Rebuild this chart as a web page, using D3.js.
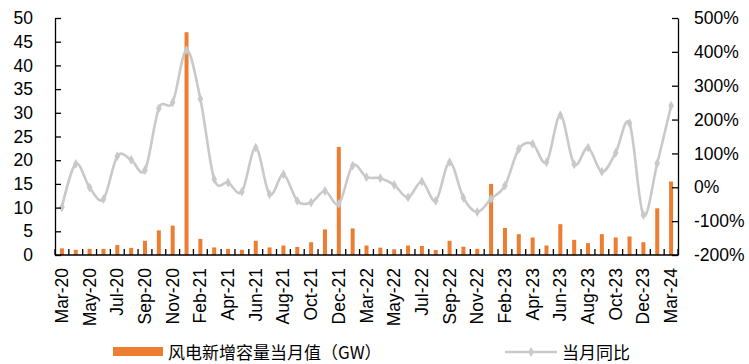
<!DOCTYPE html>
<html>
<head>
<meta charset="utf-8">
<script src="https://cdn.jsdelivr.net/npm/d3@7"></script>
<style>
  html, body { margin: 0; padding: 0; background: #fff; }
  svg { display: block; }
  .tick text { font-family: "Liberation Sans", Arial, sans-serif; fill: #000; }
</style>
</head>
<body>
<svg id="chart" width="749" height="364"></svg>
<script>
// Monthly wind power additions (January is merged into February each year)
const months = [
  "Mar-20","Apr-20","May-20","Jun-20","Jul-20","Aug-20","Sep-20","Oct-20","Nov-20","Dec-20",
  "Feb-21","Mar-21","Apr-21","May-21","Jun-21","Jul-21","Aug-21","Sep-21","Oct-21","Nov-21","Dec-21",
  "Feb-22","Mar-22","Apr-22","May-22","Jun-22","Jul-22","Aug-22","Sep-22","Oct-22","Nov-22","Dec-22",
  "Feb-23","Mar-23","Apr-23","May-23","Jun-23","Jul-23","Aug-23","Sep-23","Oct-23","Nov-23","Dec-23",
  "Feb-24","Mar-24"
];

// New wind capacity in the month (GW)
const newCapacity = [
  1.4, 1.1, 1.3, 1.3, 2.1, 1.5, 3.0, 5.2, 6.2, 47.0,
  3.4, 1.6, 1.3, 1.1, 3.0, 1.6, 2.0, 1.7, 2.7, 5.4, 22.8,
  5.6, 2.0, 1.55, 1.2, 2.0, 1.9, 1.05, 3.0, 1.75, 1.3, 15.0,
  5.7, 4.4, 3.7, 2.0, 6.5, 3.2, 2.5, 4.4, 3.7, 3.9, 2.7,
  9.85, 15.5
];

// Year-on-year change of the monthly additions (%)
const yoy = [
  -59, 69, -1, -35, 92, 81, 51, 233, 251, 405,
  261, 24, 14, -13, 117, -21, 38, -40, -45, -11, -49,
  64, 30, 27, 7, -30, 17, -40, 74, -31, -73, -34,
  5, 113, 128, 74, 213, 68, 117, 46, 102, 189, -82,
  71, 241
];

const leftTicks = [0, 5, 10, 15, 20, 25, 30, 35, 40, 45, 50];
const rightTicks = [-200, -100, 0, 100, 200, 300, 400, 500];

const seriesNames = ["风电新增容量当月值（GW）", "当月同比"];

const barColor = "#ED7D31";
const lineColor = "#C9C9C9";

const svg = d3.select("#chart");
const plot = { left: 55, right: 678, top: 18, bottom: 255 };

const xCat = d3.scaleBand()
  .domain(months)
  .range([plot.left, plot.right]);

const yL = d3.scaleLinear().domain([0, 50]).range([plot.bottom, plot.top]);
const yR = d3.scaleLinear().domain([-200, 500]).range([plot.bottom, plot.top]);

const center = (d) => xCat(d) + xCat.bandwidth() / 2;

// Bars
svg.append("g")
  .selectAll("rect")
  .data(months)
  .join("rect")
  .attr("x", (d) => center(d) - 2)
  .attr("width", 4)
  .attr("y", (d, i) => yL(newCapacity[i]))
  .attr("height", (d, i) => yL(0) - yL(newCapacity[i]))
  .attr("fill", barColor);

// Smoothed YoY line
const line = d3.line()
  .x((d, i) => center(months[i]))
  .y((d) => yR(d))
  .curve(d3.curveCardinal.tension(0));

svg.append("path")
  .datum(yoy)
  .attr("d", line)
  .attr("fill", "none")
  .attr("stroke", lineColor)
  .attr("stroke-width", 2.6)
  .attr("stroke-linejoin", "round");

const diamond = d3.symbol().type(d3.symbolDiamond).size(28);
svg.append("g")
  .selectAll("path")
  .data(yoy)
  .join("path")
  .attr("transform", (d, i) => `translate(${center(months[i])},${yR(d)})`)
  .attr("d", diamond)
  .attr("fill", lineColor);

// Left axis (ticks point into the plot)
const leftAxis = svg.append("g")
  .attr("transform", `translate(${plot.left},0)`)
  .call(d3.axisLeft(yL).tickValues(leftTicks).tickSizeInner(-6).tickSizeOuter(0).tickPadding(22));
leftAxis.selectAll("text").style("font-size", "17.5px");

// Right axis
const rightAxis = svg.append("g")
  .attr("transform", `translate(${plot.right},0)`)
  .call(d3.axisRight(yR).tickValues(rightTicks).tickFormat((d) => d + "%")
    .tickSizeInner(-6).tickSizeOuter(0).tickPadding(16));
rightAxis.selectAll("text").style("font-size", "17.5px");

[leftAxis, rightAxis].forEach((g) => {
  g.select(".domain").attr("stroke", "#000").attr("stroke-width", 1.3);
  g.selectAll(".tick line").attr("stroke", "#000").attr("stroke-width", 1.3);
});

// Bottom axis: ticks at category boundaries, labels every other month
const bottom = svg.append("g");
bottom.append("line")
  .attr("x1", plot.left).attr("x2", plot.right)
  .attr("y1", plot.bottom).attr("y2", plot.bottom)
  .attr("stroke", "#000").attr("stroke-width", 1.6);

bottom.selectAll("line.tk")
  .data(d3.range(months.length + 1))
  .join("line")
  .attr("class", "tk")
  .attr("x1", (i) => plot.left + i * xCat.step())
  .attr("x2", (i) => plot.left + i * xCat.step())
  .attr("y1", plot.bottom)
  .attr("y2", plot.bottom - 6)
  .attr("stroke", "#000").attr("stroke-width", 1.3);

bottom.selectAll("text")
  .data(months.filter((d, i) => i % 2 === 0))
  .join("text")
  .attr("transform", (d) => `translate(${center(d) + 6},${plot.bottom + 13}) rotate(-90)`)
  .attr("text-anchor", "end")
  .style("font-family", "'Liberation Sans', Arial, sans-serif")
  .style("font-size", "17.5px")
  .text((d) => d);

// Legend
const legend = svg.append("g")
  .style("font-family", "'Noto Sans CJK SC', sans-serif")
  .style("font-size", "17px");

legend.append("rect")
  .attr("x", 113).attr("y", 347).attr("width", 50).attr("height", 9)
  .attr("fill", barColor);
legend.append("text")
  .attr("x", 168).attr("y", 351)
  .attr("dominant-baseline", "central")
  .text(seriesNames[0]);

legend.append("line")
  .attr("x1", 505).attr("x2", 557).attr("y1", 352).attr("y2", 352)
  .attr("stroke", lineColor).attr("stroke-width", 2.6);
legend.append("path")
  .attr("transform", "translate(531,352)")
  .attr("d", diamond)
  .attr("fill", lineColor);
legend.append("text")
  .attr("x", 562).attr("y", 351)
  .attr("dominant-baseline", "central")
  .text(seriesNames[1]);
</script>
</body>
</html>
